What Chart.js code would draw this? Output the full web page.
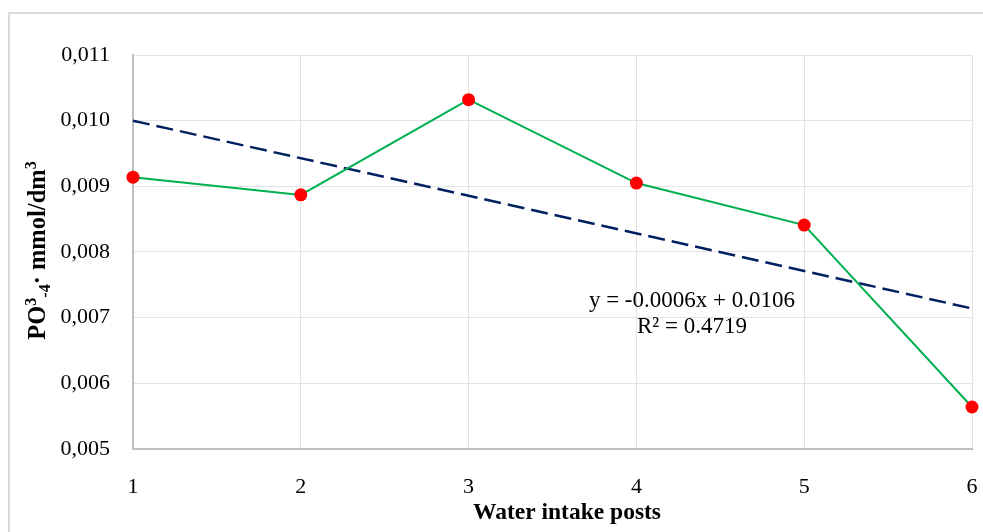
<!DOCTYPE html>
<html>
<head>
<meta charset="utf-8">
<script src="https://cdn.jsdelivr.net/npm/chart.js@4"></script>
<style>
  html, body { margin: 0; padding: 0; background: #ffffff; }
  #wrap { width: 983px; height: 532px; position: relative; }
</style>
</head>
<body>
<div id="wrap"><canvas id="c" width="983" height="532"></canvas></div>
<script>
// ---- data ----
const posts = [1, 2, 3, 4, 5, 6];
const po4Values = [0.00914, 0.00887, 0.01032, 0.00905, 0.00841, 0.00564];
const trendX = [1, 6];
const trendValues = [0.01000, 0.00714];
const yTicks = [0.005, 0.006, 0.007, 0.008, 0.009, 0.010, 0.011];
const xTitle = 'Water intake posts';
const equationLines = ['y = -0.0006x + 0.0106', 'R\u00b2 = 0.4719'];

const FONT = '"Liberation Serif", "Times New Roman", serif';

const frameAndText = {
  id: 'frameAndText',
  beforeDraw(chart) {
    const ctx = chart.ctx;
    ctx.save();
    ctx.fillStyle = '#ffffff';
    ctx.fillRect(0, 0, chart.width, chart.height);
    ctx.strokeStyle = '#d9d9d9';
    ctx.lineWidth = 2;
    ctx.strokeRect(9, 13, 1100, 700);
    ctx.restore();
  },
  afterDraw(chart) {
    const ctx = chart.ctx;
    const xs = chart.scales.x, ys = chart.scales.y;
    ctx.save();
    ctx.fillStyle = '#000000';
    // regression equation
    ctx.font = '23px ' + FONT;
    ctx.textAlign = 'center';
    ctx.textBaseline = 'alphabetic';
    const ex = xs.getPixelForValue(4.331);
    ctx.fillText(equationLines[0], ex, ys.getPixelForValue(0.007165));
    ctx.fillText(equationLines[1], ex, ys.getPixelForValue(0.006770));
    // x title
    ctx.font = 'bold 23.5px ' + FONT;
    ctx.fillText(xTitle, 567, 519);
    // y title (rich text, rotated)
    const parts = [
      {t: 'PO', s: 24.5, dy: 0},
      {t: '3', s: 16, dy: -9},
      {t: '-4', s: 16, dy: 5},
      {t: '\u00b7', s: 24.5, dy: 0},
      {t: ' mmol/dm', s: 24.5, dy: 0},
      {t: '3', s: 16, dy: -9}
    ];
    let total = 0;
    parts.forEach(p => { ctx.font = 'bold ' + p.s + 'px ' + FONT; p.w = ctx.measureText(p.t).width; total += p.w; });
    ctx.translate(45, 250.5);
    ctx.rotate(-Math.PI / 2);
    ctx.textAlign = 'left';
    let x = -total / 2;
    parts.forEach(p => {
      ctx.font = 'bold ' + p.s + 'px ' + FONT;
      ctx.fillText(p.t, x, p.dy);
      x += p.w;
    });
    ctx.restore();
  }
};

new Chart(document.getElementById('c'), {
  type: 'scatter',
  data: {
    datasets: [
      {
        label: 'PO4',
        data: posts.map((p, i) => ({x: p, y: po4Values[i]})),
        showLine: true,
        borderColor: '#00b050',
        borderWidth: 2,
        pointBackgroundColor: '#ff0000',
        pointBorderColor: '#ff0000',
        pointRadius: 6.5,
        pointBorderWidth: 0,
        clip: false,
        order: 1
      },
      {
        label: 'Trend',
        data: trendX.map((p, i) => ({x: p, y: trendValues[i]})),
        showLine: true,
        borderColor: '#002060',
        borderWidth: 2.5,
        borderDash: [17, 7],
        pointRadius: 0,
        clip: false,
        order: 2
      }
    ]
  },
  options: {
    responsive: false,
    animation: false,
    devicePixelRatio: 1,
    layout: { padding: { left: 0, top: 55, right: 11, bottom: 0 } },
    plugins: { legend: { display: false }, tooltip: { enabled: false } },
    scales: {
      x: {
        type: 'linear',
        min: 1, max: 6,
        afterFit(s) { s.height = 83; s.paddingRight = 0; s.paddingLeft = 0; },
        ticks: {
          stepSize: 1,
          padding: 25,
          color: '#000000',
          font: { family: FONT, size: 22 }
        },
        grid: { color: '#e3e3e3', lineWidth: 1, drawTicks: false },
        border: { color: '#bfbfbf', width: 2 }
      },
      y: {
        type: 'linear',
        min: 0.005, max: 0.011,
        afterFit(s) { s.width = 133; s.paddingTop = 0; s.paddingBottom = 0; },
        afterBuildTicks(s) { s.ticks = yTicks.map(v => ({value: v})); },
        ticks: {
          padding: 23,
          color: '#000000',
          font: { family: FONT, size: 22 },
          callback: v => v.toFixed(3).replace('.', ',')
        },
        grid: { color: '#e3e3e3', lineWidth: 1, drawTicks: false },
        border: { color: '#bfbfbf', width: 2 }
      }
    }
  },
  plugins: [frameAndText]
});
</script>
</body>
</html>
